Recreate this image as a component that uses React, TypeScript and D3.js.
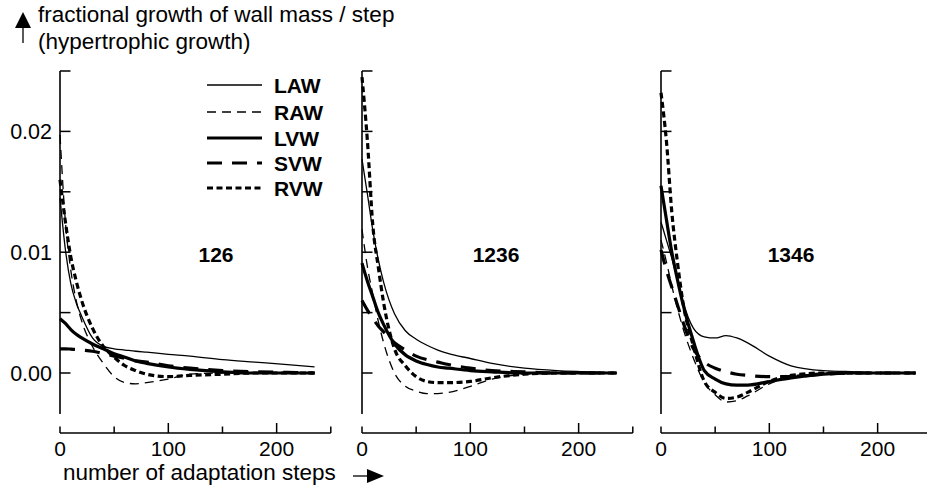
import React from "react";
import * as d3 from "d3";

const steps = [0, 5, 10, 15, 20, 30, 40, 50, 60, 70, 80, 100, 120, 150, 180, 210, 235];

// Panel "126"
const p126LAW = [0.0145, 0.0102, 0.0074, 0.0058, 0.0047, 0.0029, 0.0022, 0.002, 0.0019, 0.0018, 0.00172, 0.00155, 0.0014, 0.0011, 0.0009, 0.0007, 0.0005];
const p126RAW = [0.0197, 0.0125, 0.0085, 0.006, 0.0043, 0.0022, 0.0008, -0.0003, -0.0008, -0.0009, -0.0008, -0.0005, -0.0001, 0, 0, 0, 0];
const p126LVW = [0.0045, 0.0041, 0.0036, 0.0032, 0.0029, 0.0024, 0.002, 0.0016, 0.0013, 0.001, 0.0008, 0.0005, 0.0003, 0.0001, 0, 0, 0];
const p126SVW = [0.002, 0.002, 0.00198, 0.00195, 0.0019, 0.0018, 0.0016, 0.0014, 0.0012, 0.001, 0.0009, 0.0006, 0.0004, 0.0002, 0.0001, 0.00005, 0];
const p126RVW = [0.016, 0.0125, 0.0096, 0.0076, 0.006, 0.0037, 0.0022, 0.0013, 0.0006, 0.0002, -0.0001, -0.0003, -0.0002, -0.0001, 0, 0, 0];

// Panel "1236"
const p1236LAW = [0.0177, 0.0148, 0.0118, 0.0094, 0.0075, 0.0049, 0.0035, 0.0028, 0.0023, 0.0019, 0.0016, 0.0012, 0.0008, 0.0004, 0.0002, 0.0001, 0];
const p1236RAW = [0.0119, 0.0088, 0.0065, 0.0043, 0.0025, 0, -0.0011, -0.0015, -0.0017, -0.0017, -0.0016, -0.0011, -0.0005, -0.0001, 0, 0, 0];
const p1236LVW = [0.0091, 0.0076, 0.0063, 0.005, 0.004, 0.0024, 0.0015, 0.001, 0.0007, 0.0005, 0.0004, 0.0002, 0.0001, 0, 0, 0, 0];
const p1236SVW = [0.006, 0.0052, 0.0045, 0.0039, 0.0034, 0.0025, 0.0019, 0.0014, 0.0011, 0.0009, 0.0007, 0.0004, 0.0002, 0.0001, 0, 0, 0];
const p1236RVW = [0.0245, 0.0192, 0.0122, 0.0088, 0.0058, 0.002, 0.0006, -0.0003, -0.0007, -0.0008, -0.0008, -0.0007, -0.0004, -0.0001, 0, 0, 0];

// Panel "1346"
const p1346LAW = [0.0125, 0.011, 0.0095, 0.0078, 0.006, 0.0037, 0.003, 0.0029, 0.0031, 0.0029, 0.0025, 0.0014, 0.0006, 0.0002, 0.0001, 0, 0];
const p1346RAW = [0.011, 0.0092, 0.0072, 0.0054, 0.0038, 0.0012, -0.0008, -0.0018, -0.0024, -0.0023, -0.0019, -0.0009, -0.0003, 0, 0, 0, 0];
const p1346LVW = [0.0155, 0.0127, 0.01, 0.0078, 0.0058, 0.0026, 0.0002, -0.0005, -0.0009, -0.001, -0.001, -0.0007, -0.0004, -0.0001, 0, 0, 0];
const p1346SVW = [0.0102, 0.0085, 0.0071, 0.0057, 0.0043, 0.002, 0.0009, 0.0004, 0.0001, -0.0001, -0.0002, -0.0003, -0.0003, -0.0001, 0, 0, 0];
const p1346RVW = [0.0232, 0.0192, 0.0133, 0.0093, 0.006, 0.0022, -0.0007, -0.0016, -0.0021, -0.002, -0.0016, -0.0007, -0.0002, 0, 0, 0, 0];

const seriesNames = ["LAW", "RAW", "LVW", "SVW", "RVW"];
const panelLabels = ["126", "1236", "1346"];
const panelData = [
  [p126LAW, p126RAW, p126LVW, p126SVW, p126RVW],
  [p1236LAW, p1236RAW, p1236LVW, p1236SVW, p1236RVW],
  [p1346LAW, p1346RAW, p1346LVW, p1346SVW, p1346RVW],
];
const yTickValues = [0, 0.005, 0.01, 0.015, 0.02, 0.025];
const yTickLabels = ["0.00", "", "0.01", "", "0.02", ""];
const xTickValues = [0, 50, 100, 150, 200, 250];
const xTickLabels = ["0", "", "100", "", "200", ""];

const styles = [
  { w: 1.3, dash: "none" },
  { w: 1.3, dash: "9,6" },
  { w: 3.2, dash: "none" },
  { w: 3.2, dash: "15,10" },
  { w: 3.2, dash: "6,3.5" },
];

const FONT = "'Liberation Sans', Arial, sans-serif";
const panelX0 = [60, 362, 661];
const labelOffset = [156, 134, 130];

export default function App() {
  const y = d3.scaleLinear().domain([0, 0.025]).range([373, 71]);
  const yAxisBottom = 414;
  const xAxisY = 433;

  return (
    <svg width={927} height={486} style={{ position: "absolute", left: 0, top: 0, background: "#fff" }} fontFamily={FONT}>
      {/* y title */}
      <polygon points="15,28 31,28 23,12" fill="#000" />
      <line x1={23} y1={28} x2={23} y2={43} stroke="#000" strokeWidth={1.3} />
      <text x={38} y={22} fontSize={22.5}>fractional growth of wall mass / step</text>
      <text x={38} y={49} fontSize={22.5}>(hypertrophic growth)</text>

      {panelData.map((series, pi) => {
        const x = d3.scaleLinear().domain([0, 250]).range([panelX0[pi], panelX0[pi] + 270.8]);
        const line = d3
          .line<number>()
          .x((_, i) => x(steps[i]))
          .y((d) => y(d))
          .curve(d3.curveMonotoneX);
        return (
          <g key={pi}>
            {/* y axis */}
            <line x1={x(0)} x2={x(0)} y1={y(0.025)} y2={yAxisBottom} stroke="#000" strokeWidth={1.6} />
            {yTickValues.map((v, i) => (
              <g key={i}>
                <line x1={x(0)} x2={x(0) + 10.5} y1={y(v)} y2={y(v)} stroke="#000" strokeWidth={1.5} />
                {pi === 0 && yTickLabels[i] && (
                  <text x={x(0) - 8} y={y(v) + 8} fontSize={21.5} textAnchor="end">
                    {yTickLabels[i]}
                  </text>
                )}
              </g>
            ))}
            {/* x axis */}
            <line x1={x(0)} x2={x(250)} y1={xAxisY} y2={xAxisY} stroke="#000" strokeWidth={1.6} />
            {xTickValues.map((v, i) => (
              <g key={i}>
                <line
                  x1={x(v)}
                  x2={x(v)}
                  y1={xAxisY}
                  y2={xAxisY - (xTickLabels[i] && v !== 0 ? 10 : 6.5)}
                  stroke="#000"
                  strokeWidth={1.5}
                />
                {xTickLabels[i] && (
                  <text x={x(v)} y={456} fontSize={21} textAnchor="middle">
                    {xTickLabels[i]}
                  </text>
                )}
              </g>
            ))}
            {/* curves */}
            {series.map((vals, si) => (
              <path
                key={si}
                d={line(vals) || ""}
                fill="none"
                stroke="#000"
                strokeWidth={styles[si].w}
                strokeDasharray={styles[si].dash}
              />
            ))}
            <text x={x(0) + labelOffset[pi]} y={262} fontSize={21} fontWeight="bold" textAnchor="middle">
              {panelLabels[pi]}
            </text>
          </g>
        );
      })}

      {/* legend */}
      {seriesNames.map((n, i) => {
        const yy = [85, 112, 138, 163, 188][i];
        return (
          <g key={n}>
            <line x1={207} x2={262} y1={yy} y2={yy} stroke="#000" strokeWidth={styles[i].w} strokeDasharray={styles[i].dash} />
            <text x={274} y={yy + 7.5} fontSize={21} fontWeight="bold">
              {n}
            </text>
          </g>
        );
      })}

      {/* x title */}
      <text x={63} y={480} fontSize={22.5}>number of adaptation steps</text>
      <line x1={353} x2={368} y1={476} y2={476} stroke="#000" strokeWidth={1.3} />
      <polygon points="367,469 367,483 384,476" fill="#000" />
    </svg>
  );
}
